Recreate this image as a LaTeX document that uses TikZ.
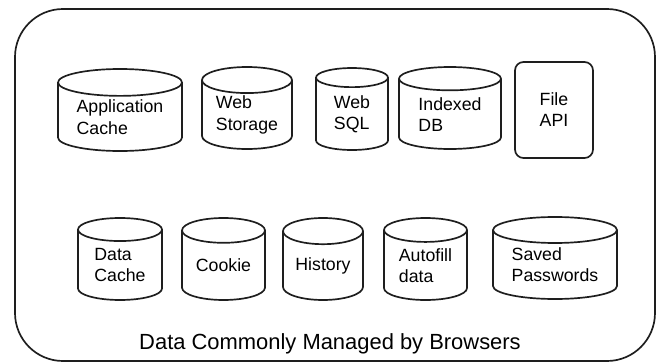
\documentclass[tikz,border=0pt]{standalone}
\usepackage{fontspec}
\setmainfont{Liberation Sans}
\usetikzlibrary{shapes.geometric}
\definecolor{dLine}{RGB}{30,30,30}

\begin{document}
\begin{tikzpicture}[font=\fontsize{12.6}{15}\selectfont,
  db/.style={draw=dLine,line width=1.2pt,cylinder,shape border rotate=90,anchor=shape center,align=left,inner sep=0pt,minimum height=2.05cm},
  fb/.style={draw=dLine,line width=1.2pt,rounded corners=6pt,align=left,inner sep=0pt}]
  \useasboundingbox (0,0) rectangle (16.5,9.05);
  \draw[dLine,line width=1.2pt,rounded corners=1.2cm] (0.375,0.025) rectangle (16.375,8.825);
  % top row
  \node[db,minimum width=3.1cm,aspect=0.31] (appc) at (3.0,6.3) {Application\\Cache};
  \node[db,minimum width=2.25cm,aspect=0.42] (webst) at (6.175,6.35) {Web\\Storage};
  \node[db,minimum width=1.8cm,aspect=0.53] (wsql) at (8.8,6.325) {Web\\SQL};
  \node[db,minimum width=2.55cm,aspect=0.37] (idb) at (11.25,6.35) {Indexed\\DB};
  \node[fb,minimum width=1.95cm,minimum height=2.4cm] (fapi) at (13.85,6.3) {File\\API};
  % bottom row
  \node[db,minimum width=2.1cm,aspect=0.45] (dcache) at (3.0,2.575) {Data\\Cache};
  \node[db,minimum width=2.075cm,aspect=0.45] (cookie) at (5.5875,2.575) {Cookie};
  \node[db,minimum width=2.0cm,aspect=0.475] (hist) at (8.075,2.575) {History};
  \node[db,minimum width=2.075cm,aspect=0.45] (afill) at (10.6375,2.575) {Autofill\\data};
  \node[db,minimum width=3.1cm,aspect=0.30] (spw) at (13.875,2.6) {Saved\\Passwords};
  \node[font=\fontsize{15.6}{18}\selectfont] (title) at (8.25,0.45) {Data Commonly Managed by Browsers};
\end{tikzpicture}
\end{document}
